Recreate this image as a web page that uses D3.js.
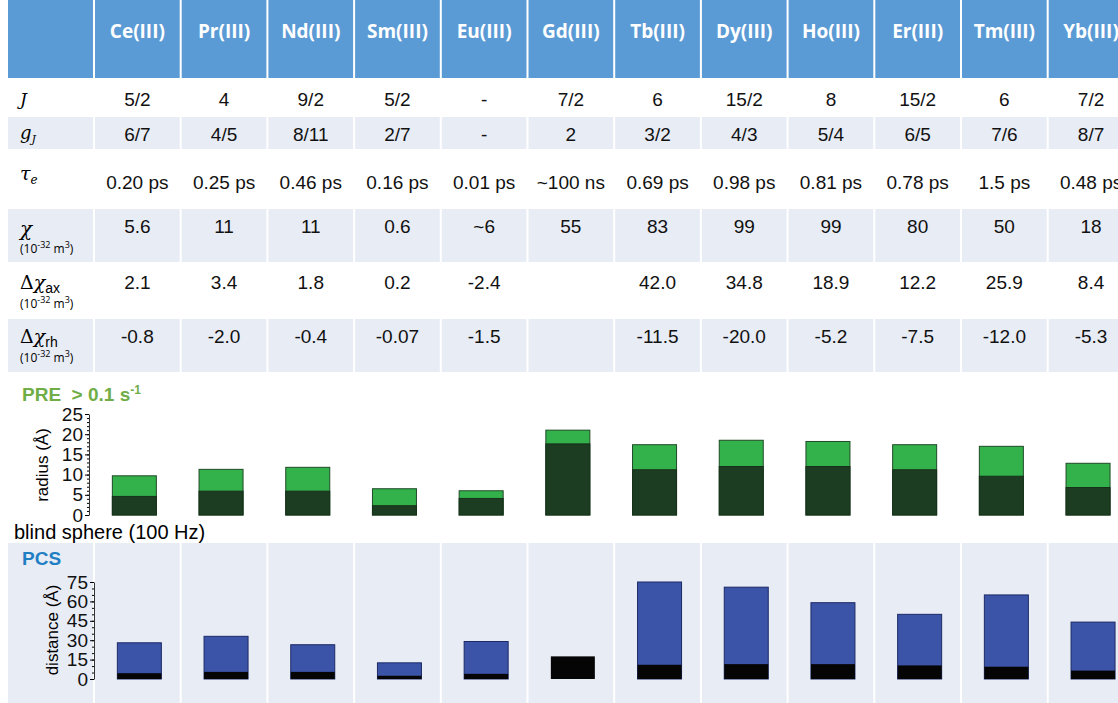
<!DOCTYPE html>
<html><head><meta charset="utf-8">
<script src="https://cdn.jsdelivr.net/npm/d3@7"></script>
<style>body{margin:0;background:#fff;overflow:hidden}svg{font-family:"Liberation Sans",Arial,sans-serif}</style>
</head><body><div id="chart"></div>
<script>
const ions = ["Ce(III)","Pr(III)","Nd(III)","Sm(III)","Eu(III)","Gd(III)","Tb(III)","Dy(III)","Ho(III)","Er(III)","Tm(III)","Yb(III)"];
const rowJ = ["5/2","4","9/2","5/2","-","7/2","6","15/2","8","15/2","6","7/2"];
const rowG = ["6/7","4/5","8/11","2/7","-","2","3/2","4/3","5/4","6/5","7/6","8/7"];
const rowTau = ["0.20 ps","0.25 ps","0.46 ps","0.16 ps","0.01 ps","~100 ns","0.69 ps","0.98 ps","0.81 ps","0.78 ps","1.5 ps","0.48 ps"];
const rowChi = ["5.6","11","11","0.6","~6","55","83","99","99","80","50","18"];
const rowAx = ["2.1","3.4","1.8","0.2","-2.4","","42.0","34.8","18.9","12.2","25.9","8.4"];
const rowRh = ["-0.8","-2.0","-0.4","-0.07","-1.5","","-11.5","-20.0","-5.2","-7.5","-12.0","-5.3"];
const preTotal = [9.7,11.3,11.8,6.5,6.0,21,17.4,18.5,18.2,17.4,17,12.8];
const preBlind = [4.6,5.9,5.9,2.3,4.1,17.6,11.2,12,12,11.2,9.6,6.8];
const pcsTotal = [28,33,26.5,12.5,29,null,75,71,59,50,65,44];
const pcsBlind = [4.5,5.5,5.5,2.5,4,17.5,11,11.5,11.5,10.5,9.5,6.5];
const preTicks = [0,5,10,15,20,25];
const pcsTicks = [0,15,30,45,60,75];

const W = 1118, H = 703;
const svg = d3.select("#chart").append("svg").attr("width", W).attr("height", H);
const x = d3.scaleBand().domain(ions).range([94, 94 + 86.7 * 12]).paddingInner(0);
const light = "#e8ecf5";

// header
svg.append("rect").attr("x", 8).attr("y", 0).attr("width", W).attr("height", 78).attr("fill", "#5b9bd5");
ions.forEach(d => svg.append("line").attr("x1", x(d)).attr("x2", x(d)).attr("y1", 0).attr("y2", 372).attr("stroke", "#fff").attr("stroke-width", 2));
svg.selectAll(".hd").data(ions).enter().append("text")
   .attr("x", d => x(d) + x.bandwidth() / 2).attr("y", 38).attr("text-anchor", "middle")
   .style("font-family", "'Open Sans',sans-serif").style("font-weight", "bold").style("font-size", "19px").style("fill", "#fff").text(d => d);

const rows = [
  {vals: rowJ, y0: 80, y1: 116, bg: "#fff", ty: 106},
  {vals: rowG, y0: 116, y1: 150, bg: light, ty: 141},
  {vals: rowTau, y0: 150, y1: 208, bg: "#fff", ty: 189},
  {vals: rowChi, y0: 208, y1: 263, bg: light, ty: 233},
  {vals: rowAx, y0: 263, y1: 318, bg: "#fff", ty: 289},
  {vals: rowRh, y0: 318, y1: 372, bg: light, ty: 343}
];
rows.forEach(r => {
  svg.insert("rect", "line").attr("x", 8).attr("y", r.y0).attr("width", W).attr("height", r.y1 - r.y0).attr("fill", r.bg);
  svg.append("line").attr("x1", 8).attr("x2", W).attr("y1", r.y0).attr("y2", r.y0).attr("stroke", "#fff").attr("stroke-width", 2);
  svg.selectAll(null).data(r.vals).enter().append("text")
     .attr("x", (d, i) => x(ions[i]) + x.bandwidth() / 2).attr("y", r.ty).attr("text-anchor", "middle")
     .style("font-size", "19px").style("fill", "#111").text(d => d);
});
svg.append("text").attr("x", 20).attr("y", 105).style("font-size", "17px").style("font-style", "italic").style("font-family", "'DejaVu Serif',serif").text("J");
svg.append("text").attr("x", 20).attr("y", 139).style("font-size", "18px").style("font-style", "italic").style("font-family", "'DejaVu Serif',serif").html("g<tspan dy='4' font-size='11'>J</tspan>");
svg.append("text").attr("x", 20).attr("y", 180).style("font-size", "19px").style("font-style", "italic").style("font-family", "'DejaVu Serif',serif").html("τ<tspan dy='4' font-size='12'>e</tspan>");
svg.append("text").attr("x", 20).attr("y", 236).style("font-size", "20px").style("font-style", "italic").style("font-family", "'DejaVu Serif',serif").text("χ");
svg.append("text").attr("x", 20).attr("y", 289).style("font-size", "19px").style("font-family", "'DejaVu Serif',serif").html("Δ<tspan font-style='italic'>χ</tspan><tspan dy='4' font-size='14' font-family='Liberation Sans'>ax</tspan>");
svg.append("text").attr("x", 20).attr("y", 343).style("font-size", "19px").style("font-family", "'DejaVu Serif',serif").html("Δ<tspan font-style='italic'>χ</tspan><tspan dy='4' font-size='14' font-family='Liberation Sans'>rh</tspan>");
[253, 308, 362].forEach(yy => svg.append("text").attr("x", 20).attr("y", yy).style("font-size", "12px").style("font-family", "'Open Sans',sans-serif")
   .html("(10<tspan dy='-5' font-size='9'>-32</tspan><tspan dy='5'> m</tspan><tspan dy='-5' font-size='9'>3</tspan><tspan dy='5'>)</tspan>"));

// PRE panel
svg.append("text").attr("x", 22).attr("y", 401).style("font-weight", "bold").style("font-size", "19px").style("fill", "#70ad47")
   .html("PRE &nbsp;&gt; 0.1 s<tspan dy='-7' font-size='12'>-1</tspan>");
const yPre = d3.scaleLinear().domain([0, 25]).range([515, 414]);
svg.append("g").attr("transform", "translate(89,0)")
   .call(d3.axisLeft(yPre).tickValues(preTicks).tickSize(4).tickPadding(2).tickSizeOuter(0))
   .call(g => g.selectAll("text").style("font-size", "19px").style("font-family", "Liberation Sans").style("fill", "#111"))
   .call(g => g.select(".domain").attr("stroke", "#333"));
svg.append("g").attr("transform", "translate(89,0)").call(d3.axisLeft(yPre).ticks(25).tickSize(2).tickFormat(""))
   .call(g => g.select(".domain").remove());
svg.append("text").attr("transform", "translate(48,465) rotate(-90)").attr("text-anchor", "middle").style("font-size", "17px").text("radius (Å)");
const bw = 44;
svg.selectAll(".pt").data(ions).enter().append("rect")
   .attr("x", d => x(d) + x.bandwidth() / 2 - bw / 2 - 3).attr("width", bw)
   .attr("y", (d, i) => yPre(preTotal[i])).attr("height", (d, i) => yPre(0) - yPre(preTotal[i]))
   .attr("fill", "#33b24c").attr("stroke", "#1f4a26");
svg.selectAll(".pb").data(ions).enter().append("rect")
   .attr("x", d => x(d) + x.bandwidth() / 2 - bw / 2 - 3).attr("width", bw)
   .attr("y", (d, i) => yPre(preBlind[i])).attr("height", (d, i) => yPre(0) - yPre(preBlind[i]))
   .attr("fill", "#1d3d22").attr("stroke", "#16301a");
svg.append("text").attr("x", 14).attr("y", 539).style("font-size", "20px").text("blind sphere (100 Hz)");

// PCS panel
svg.append("rect").attr("x", 8).attr("y", 543).attr("width", W).attr("height", H - 543).attr("fill", light);
ions.forEach(d => svg.append("line").attr("x1", x(d)).attr("x2", x(d)).attr("y1", 543).attr("y2", H).attr("stroke", "#fff").attr("stroke-width", 2));
svg.append("text").attr("x", 22).attr("y", 565).style("font-weight", "bold").style("font-size", "19px").style("fill", "#1f7fc4").text("PCS");
const yPcs = d3.scaleLinear().domain([0, 75]).range([679, 582]);
svg.append("g").attr("transform", "translate(94,0)")
   .call(d3.axisLeft(yPcs).tickValues(pcsTicks).tickSize(4).tickPadding(2).tickSizeOuter(0))
   .call(g => g.selectAll("text").style("font-size", "19px").style("font-family", "Liberation Sans").style("fill", "#111"))
   .call(g => g.select(".domain").attr("stroke", "#333"));
svg.append("g").attr("transform", "translate(94,0)").call(d3.axisLeft(yPcs).ticks(15).tickSize(2).tickFormat(""))
   .call(g => g.select(".domain").remove());
svg.append("text").attr("transform", "translate(58,630) rotate(-90)").attr("text-anchor", "middle").style("font-size", "17px").text("distance (Å)");
svg.selectAll(".ct").data(ions.filter((d, i) => pcsTotal[i] != null)).enter().append("rect")
   .attr("x", d => x(d) + x.bandwidth() / 2 - bw / 2 + 2).attr("width", bw)
   .attr("y", d => yPcs(pcsTotal[ions.indexOf(d)])).attr("height", d => yPcs(0) - yPcs(pcsTotal[ions.indexOf(d)]))
   .attr("fill", "#3b54a8").attr("stroke", "#1c2a66");
svg.selectAll(".cb").data(ions).enter().append("rect")
   .attr("x", d => x(d) + x.bandwidth() / 2 - bw / 2 + 2).attr("width", bw)
   .attr("y", (d, i) => yPcs(pcsBlind[i])).attr("height", (d, i) => yPcs(0) - yPcs(pcsBlind[i]))
   .attr("fill", "#050505");
</script></body></html>
